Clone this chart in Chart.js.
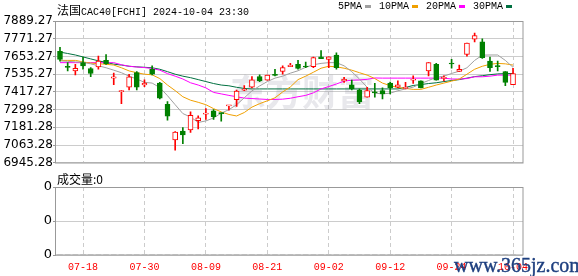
<!DOCTYPE html>
<html>
<head>
<meta charset="utf-8">
<script src="https://cdn.jsdelivr.net/npm/chart.js@4.4.1/dist/chart.umd.min.js"></script>
<style>
  body { margin: 0; background: #fff; width: 578px; height: 276px; position: relative; overflow: hidden; }
  canvas { position: absolute; left: 0; }
  #main { top: 0; }
  #vol { top: 170px; }
  .t { position: absolute; white-space: nowrap; color: #000; line-height: 14px; }
  .mono { font: 10px 'Liberation Mono', monospace; }
  .cjk { font: 12px 'Noto Sans CJK SC', sans-serif; }
  #legend { left: 338px; top: 1px; display: flex; align-items: center; }
  #legend .sw { display: inline-block; width: 6px; height: 3px; margin: 0 8px 0 3px; }
  #wm { position: absolute; left: 454px; top: 254px; font: 20px 'Liberation Serif', serif; color: #1e3f7f;
        -webkit-text-stroke: 0.4px #1e3f7f; z-index: 5; }
</style>
</head>
<body>
<canvas id="main" width="578" height="170"></canvas>
<canvas id="vol" width="578" height="106"></canvas>
<div class="t" style="left:57px;top:1px"><span class="cjk">法国</span><span class="mono">CAC40[FCHI] 2024-10-04 23:30</span></div>
<div class="t" id="legend"></div>
<div class="t cjk" style="left:57px;top:170px">成交量:0</div>
<div id="wm">www.365jz.com</div>
<script>
// trading days shown (07-15 .. 10-04)
const dates = [
  '07-15','07-16','07-17','07-18','07-19','07-22','07-23','07-24','07-25','07-26',
  '07-29','07-30','07-31','08-01','08-02','08-05','08-06','08-07','08-08','08-09',
  '08-12','08-13','08-14','08-15','08-16','08-19','08-20','08-21','08-22','08-23',
  '08-26','08-27','08-28','08-29','08-30','09-02','09-03','09-04','09-05','09-06',
  '09-09','09-10','09-11','09-12','09-13','09-16','09-17','09-18','09-19','09-20',
  '09-23','09-24','09-25','09-26','09-27','09-30','10-01','10-02','10-03','10-04'
];
const tickDates = ['07-18','07-30','08-09','08-21','09-02','09-12','09-24','10-04'];

const openP = [
  7688,7586,7557,7612,7573,7583,7627,7509,7419,7448,
  7546,7463,7568,7476,7334,7098,7157,7164,7225,7269,
  7291,7278,7324,7365,7428,7448,7520,7496,7531,7553,
  7586,7601,7588,7586,7651,7634,7662,7491,7465,7430,
  7383,7415,7426,7476,7448,7441,7496,7491,7557,7601,
  7507,7607,7553,7666,7769,7750,7622,7592,7553,7465
];
const closeP = [
  7634,7581,7575,7590,7540,7622,7605,7518,7425,7518,
  7448,7476,7535,7376,7255,7149,7131,7262,7245,7275,
  7252,7273,7328,7422,7432,7498,7491,7529,7527,7579,
  7596,7573,7583,7645,7638,7651,7579,7501,7437,7350,
  7426,7411,7404,7444,7465,7445,7501,7444,7612,7496,
  7511,7603,7568,7743,7793,7645,7579,7586,7481,7540
];
const highP = [
  7714,7612,7601,7649,7579,7655,7666,7542,7427,7535,
  7553,7498,7590,7481,7353,7153,7179,7284,7258,7306,
  7299,7278,7328,7430,7459,7520,7531,7529,7568,7590,
  7607,7627,7616,7649,7693,7651,7678,7514,7496,7437,
  7448,7474,7444,7483,7491,7481,7524,7491,7612,7607,
  7524,7634,7596,7743,7809,7771,7649,7622,7553,7575
];
const lowP = [
  7622,7557,7531,7568,7518,7568,7601,7465,7339,7430,
  7430,7452,7531,7371,7229,7029,7072,7147,7170,7234,
  7234,7223,7295,7321,7426,7444,7485,7496,7524,7535,
  7586,7568,7579,7579,7638,7579,7568,7481,7430,7339,
  7383,7383,7371,7404,7444,7437,7474,7444,7524,7496,
  7491,7575,7553,7655,7750,7640,7553,7557,7459,7465
];

// moving averages
const ma5 = [
  7624,7621,7617,7614,7604,7591,7578,7562,7545,7522,
  7503,7481,7476,7446,7392,7332,7273,7250,7214,7224,
  7244,7276,7299,7332,7378,7424,7457,7486,7509,7522,
  7542,7558,7581,7598,7607,7612,7612,7591,7552,7503,
  7448,7409,7404,7409,7425,7437,7449,7473,7493,7514,
  7522,7540,7555,7578,7627,7662,7663,7663,7627,7581
];
const ma10 = [
  7627,7627,7627,7617,7609,7605,7601,7596,7578,7557,
  7545,7535,7531,7506,7463,7426,7385,7362,7348,7332,
  7306,7284,7267,7257,7280,7316,7339,7358,7378,7417,
  7450,7499,7522,7548,7575,7588,7584,7575,7562,7545,
  7529,7506,7476,7459,7447,7440,7434,7434,7448,7463,
  7476,7489,7503,7535,7568,7588,7601,7607,7604,7596
];
const ma20 = [
  7612,7612,7612,7612,7612,7612,7612,7612,7598,7588,
  7583,7579,7573,7562,7539,7522,7503,7478,7463,7444,
  7414,7404,7394,7385,7376,7373,7370,7367,7367,7369,
  7375,7385,7394,7411,7437,7453,7470,7489,7495,7497,
  7501,7510,7509,7509,7509,7509,7509,7509,7509,7509,
  7509,7503,7503,7506,7518,7518,7522,7529,7529,7529
];
const ma30 = [
  7682,7673,7663,7650,7637,7624,7614,7602,7596,7588,
  7584,7581,7578,7568,7552,7535,7522,7512,7499,7486,
  7473,7463,7458,7448,7440,7437,7437,7437,7437,7437,
  7437,7437,7437,7437,7437,7437,7437,7437,7437,7437,
  7437,7437,7437,7437,7437,7447,7460,7466,7473,7478,
  7486,7493,7499,7509,7519,7525,7532,7537,7539,7540
];
const volume = [
  0,0,0,0,0,0,0,0,0,0, 0,0,0,0,0,0,0,0,0,0, 0,0,0,0,0,0,0,0,0,0,
  0,0,0,0,0,0,0,0,0,0, 0,0,0,0,0,0,0,0,0,0, 0,0,0,0,0,0,0,0,0,0
];

const yTickLabels = ['7889.27','7771.27','7653.27','7535.27','7417.27','7299.28','7181.28','7063.28','6945.28'];
const volTickLabels = ['0','0','0','0','0'];

const maNames = ['5PMA', '10PMA', '20PMA', '30PMA'];
const maColors = ['#a0a0a0', '#f0a000', '#ff00ff', '#007040'];
const UP = '#ff0000';
const DOWN = '#008000';

// legend
const legend = document.getElementById('legend');
maNames.forEach((n, k) => {
  legend.innerHTML += `<span class="mono">${n}</span><span class="sw" style="background:${maColors[k]}"></span>`;
});

const tickIdx = tickDates.map(d => dates.indexOf(d));
const yTicks = yTickLabels.map(Number);
const isUp = closeP.map((c, i) => c >= openP[i]);
const candleColor = isUp.map(u => u ? UP : DOWN);
const pts = arr => arr.map((v, i) => ({ x: i, y: v }));

const frame = {
  id: 'frame',
  beforeDatasetsDraw(chart, args, opts) {
    if (!opts.logo) return;
    const ctx = chart.ctx;
    ctx.save();
    ctx.font = 'bold 36px "Noto Sans CJK SC"';
    ctx.fillStyle = 'rgba(140,140,160,0.2)';
    ctx.textAlign = 'center';
    ctx.textBaseline = 'middle';
    ctx.fillText(opts.logo, 302, 92);
    ctx.restore();
  },
  afterDraw(chart) {
    const { ctx, chartArea: a } = chart;
    ctx.save();
    ctx.strokeStyle = '#999';
    ctx.lineWidth = 1;
    ctx.strokeRect(Math.round(a.left) - 0.5, Math.round(a.top) + 0.5, Math.round(a.width) + 0.5, Math.round(a.height) - 0.5);
    ctx.restore();
  }
};

const xScale = (showLabels) => ({
  type: 'linear',
  min: -0.52,
  max: 60.3,
  offset: false,
  afterBuildTicks: s => { s.ticks = tickIdx.map(v => ({ value: v })); },
  afterFit: s => { s.height = showLabels ? 21 : 0; },
  grid: { color: '#cccccc', drawTicks: false, offset: false },
  border: { display: false, dash: [4, 3] },
  ticks: {
    display: showLabels,
    autoSkip: false,
    maxRotation: 0,
    padding: 6,
    color: '#ff0000',
    font: { family: 'Liberation Mono', size: 10 },
    callback: v => dates[v]
  }
});

new Chart(document.getElementById('main'), {
  type: 'bar',
  data: {
    datasets: [
      ...maNames.map((n, k) => ({
        type: 'line', label: n, data: pts([ma5, ma10, ma20, ma30][k]),
        borderColor: maColors[k], borderWidth: 1, pointRadius: 0, tension: 0, order: 3
      })),
      {
        label: 'wick',
        data: dates.map((d, i) => ({ x: i, y: [lowP[i], highP[i]] })),
        backgroundColor: candleColor,
        barThickness: 1, grouped: false, order: 2
      },
      {
        label: 'body',
        data: dates.map((d, i) => ({ x: i, y: [openP[i], closeP[i]] })),
        backgroundColor: isUp.map(u => u ? '#ffffff' : DOWN),
        borderColor: candleColor,
        borderWidth: 1, borderSkipped: false,
        barThickness: 5, minBarLength: 1, grouped: false, order: 1
      }
    ]
  },
  options: {
    responsive: false,
    animation: false,
    layout: { padding: { top: 21, right: 55, bottom: 5, left: 0 } },
    plugins: { legend: { display: false }, tooltip: { enabled: false }, frame: { logo: '东方财富' } },
    scales: {
      x: xScale(false),
      y: {
        min: 6945.28,
        max: 7889.27,
        afterBuildTicks: s => { s.ticks = yTicks.map(v => ({ value: v })); },
        afterFit: s => { s.width = 56; },
        grid: { color: '#cccccc', tickColor: '#999', tickLength: 3 },
        border: { display: false },
        ticks: {
          padding: 0,
          color: '#000',
          font: { family: 'DejaVu Sans', size: 12 },
          callback: (v, i) => yTickLabels[i]
        }
      }
    }
  },
  plugins: [frame]
});

new Chart(document.getElementById('vol'), {
  type: 'bar',
  data: {
    datasets: [{
      label: '成交量',
      data: pts(volume),
      backgroundColor: '#999', barThickness: 5
    }]
  },
  options: {
    responsive: false,
    animation: false,
    layout: { padding: { top: 17, right: 55, bottom: 0, left: 0 } },
    plugins: { legend: { display: false }, tooltip: { enabled: false }, frame: {} },
    scales: {
      x: xScale(true),
      y: {
        min: 0,
        max: 4,
        afterBuildTicks: s => { s.ticks = volTickLabels.map((t, i) => ({ value: i })); },
        afterFit: s => { s.width = 56; },
        grid: { color: '#cccccc', tickColor: '#999', tickLength: 3 },
        border: { display: false },
        ticks: {
          padding: 1,
          color: '#000',
          font: { family: 'DejaVu Sans', size: 13 },
          callback: (v, i) => volTickLabels[i]
        }
      }
    }
  },
  plugins: [frame]
});
</script>
</body>
</html>
